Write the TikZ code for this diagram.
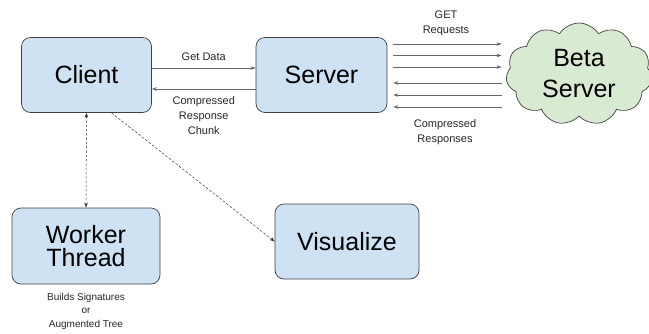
\documentclass[tikz,border=0pt]{standalone}
\usepackage{fontspec}
\setmainfont{Liberation Sans}
\usetikzlibrary{shapes.symbols,arrows.meta}

\definecolor{boxblue}{HTML}{CFE2F3}
\definecolor{cloudgreen}{HTML}{D9EAD3}
\definecolor{linkgray}{HTML}{666666}

\begin{document}
\begin{tikzpicture}[x=1pt,y=-1pt,>={Stealth[length=5pt,width=3.5pt]},
    block/.style={rectangle, rounded corners=9pt, draw=black!75, fill=boxblue, line width=0.7pt,
        inner sep=0pt, align=center, font=\fontsize{25}{23}\selectfont},
    link/.style={->, draw=linkgray, line width=0.5pt},
    dep/.style={link, draw=black!80, dash pattern=on 2.5pt off 1.8pt},
    lbl/.style={font=\fontsize{11}{15}\selectfont, align=center, text=black!85},
    ]
    \useasboundingbox (0,0) rectangle (649,333);

    \node [block, minimum width=130, minimum height=75](client) at (86.5,75) {Client};
    \node [block, minimum width=131, minimum height=75](server) at (321.5,75) {Server};
    \node [block, minimum width=148, minimum height=76](worker) at (86,246) {Worker\\Thread};
    \node [block, minimum width=144, minimum height=75](visual) at (347,241.5) {Visualize};
    \node [cloud, cloud puffs=11, cloud puff arc=115, aspect=1.5, draw=black!75, fill=cloudgreen,
        line width=0.7pt, inner sep=0pt, minimum width=146, minimum height=102, align=center,
        font=\fontsize{25}{31}\selectfont](beta) at (579,74) {Beta\\Server};

    % client <-> server
    \path
        ([yshift=7pt]client.east) edge[link] node[lbl, above=4pt]{Get Data} ([yshift=7pt]server.west)
        ([yshift=-14pt]server.west) edge[link] node[lbl, below=4pt]{Compressed\\Response\\Chunk} ([yshift=-14pt]client.east)
        (client.south) edge[dep, <->] (worker.north)
        ([xshift=25pt]client.south) edge[dep] (visual.west)
    ;

    % server <-> beta server
    \path (server.east) ++(6,0) coordinate (out);
    \path (beta.west) ++(-5,0) coordinate (in);
    \foreach \y in {44,55.5,67} {
        \draw[link] (out |- 0,\y) -- (in |- 0,\y);
    }
    \foreach \y in {83,95,107} {
        \draw[link] (in |- 0,\y) -- (out |- 0,\y);
    }
    \node [lbl](req) at (446,23) {GET\\Requests};
    \node [lbl](resp) at (445,132) {Compressed\\Responses};

    \node [lbl, font=\fontsize{10}{13.5}\selectfont](note) at (86,311) {Builds Signatures\\or\\Augmented Tree};
\end{tikzpicture}
\end{document}
